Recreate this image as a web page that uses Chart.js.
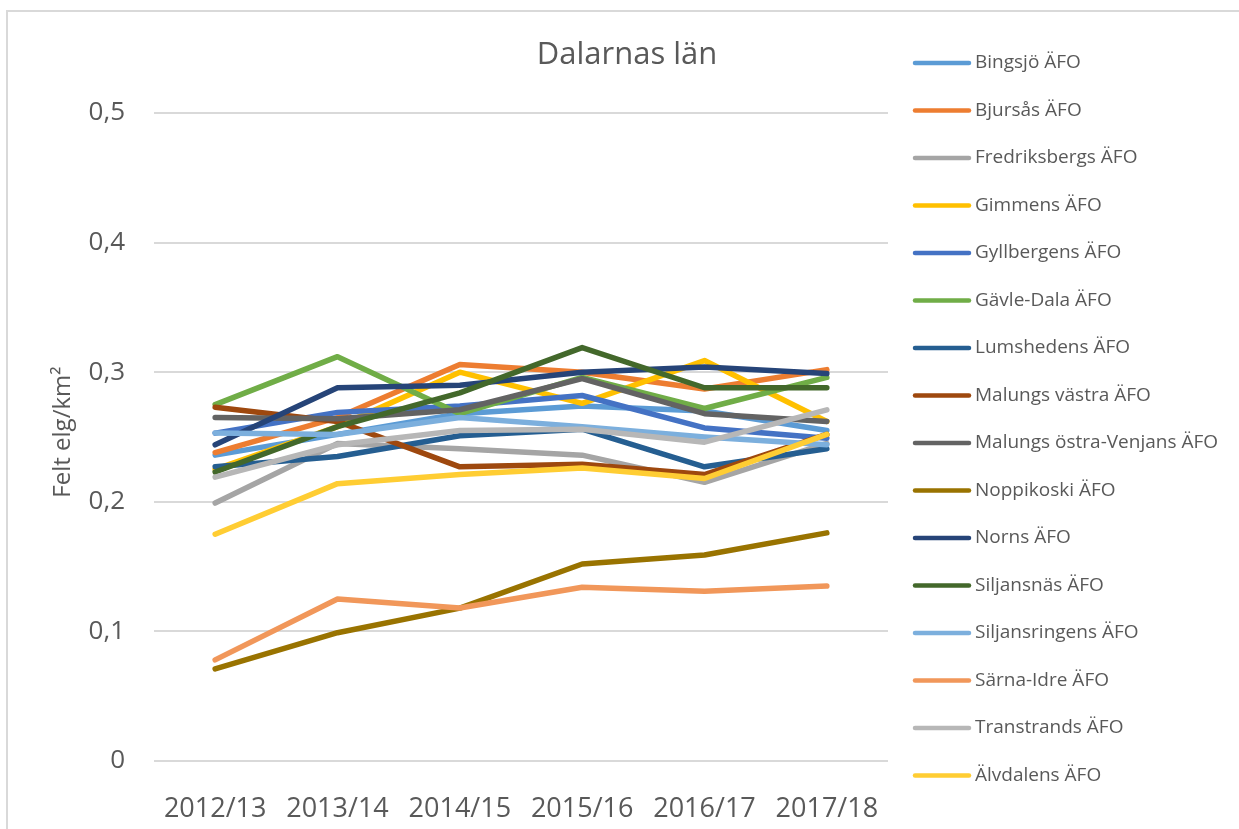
<!DOCTYPE html>
<html>
<head>
<meta charset="utf-8">
<script src="https://cdn.jsdelivr.net/npm/chart.js@4/dist/chart.umd.min.js"></script>
<style>
body { margin: 0; background: #ffffff; }
#chart_container { position: relative; width: 1239px; height: 829px; }
</style>
</head>
<body>
<div id="chart_container">
<canvas id="chart_canvas" width="1239" height="829"></canvas>
</div>
<script>
var categories = ["2012/13", "2013/14", "2014/15", "2015/16", "2016/17", "2017/18"];

var seriesNames = [
    "Bingsjö ÄFO", "Bjursås ÄFO", "Fredriksbergs ÄFO", "Gimmens ÄFO",
    "Gyllbergens ÄFO", "Gävle-Dala ÄFO", "Lumshedens ÄFO", "Malungs västra ÄFO",
    "Malungs östra-Venjans ÄFO", "Noppikoski ÄFO", "Norns ÄFO", "Siljansnäs ÄFO",
    "Siljansringens ÄFO", "Särna-Idre ÄFO", "Transtrands ÄFO", "Älvdalens ÄFO"
];

var bingsjo = [0.236, 0.252, 0.268, 0.274, 0.270, 0.255];
var bjursas = [0.238, 0.265, 0.306, 0.300, 0.287, 0.302];
var fredriksbergs = [0.199, 0.245, 0.241, 0.236, 0.215, 0.245];
var gimmens = [0.225, 0.258, 0.300, 0.276, 0.309, 0.262];
var gyllbergens = [0.253, 0.269, 0.274, 0.282, 0.257, 0.249];
var gavleDala = [0.275, 0.312, 0.268, 0.296, 0.272, 0.296];
var lumshedens = [0.227, 0.235, 0.251, 0.256, 0.227, 0.241];
var malungsVastra = [0.273, 0.262, 0.227, 0.229, 0.221, 0.252];
var malungsOstra = [0.265, 0.264, 0.271, 0.295, 0.268, 0.262];
var noppikoski = [0.071, 0.099, 0.118, 0.152, 0.159, 0.176];
var norns = [0.244, 0.288, 0.290, 0.300, 0.304, 0.299];
var siljansnas = [0.223, 0.258, 0.284, 0.319, 0.288, 0.288];
var siljansringens = [0.253, 0.252, 0.265, 0.258, 0.250, 0.244];
var sarnaIdre = [0.078, 0.125, 0.118, 0.134, 0.131, 0.135];
var transtrands = [0.219, 0.244, 0.255, 0.256, 0.246, 0.271];
var alvdalens = [0.175, 0.214, 0.221, 0.226, 0.218, 0.252];

var seriesValues = [
    bingsjo, bjursas, fredriksbergs, gimmens, gyllbergens, gavleDala, lumshedens,
    malungsVastra, malungsOstra, noppikoski, norns, siljansnas, siljansringens,
    sarnaIdre, transtrands, alvdalens
];

var seriesColors = [
    "#5B9BD5", "#ED7D31", "#A5A5A5", "#FFC000", "#4472C4", "#70AD47", "#255E91", "#9E480E",
    "#636363", "#997300", "#264478", "#43682B", "#7CAFDD", "#F1975A", "#B7B7B7", "#FFCD33"
];

var yTicks = [0, 0.1, 0.2, 0.3, 0.4, 0.5];

var textColor = "#595959";
var fontName = "'Open Sans', sans-serif";

var datasets = [];
for (var i = 0; i < seriesNames.length; i++) {
    datasets.push({
        label: seriesNames[i],
        data: seriesValues[i],
        borderColor: seriesColors[i],
        backgroundColor: seriesColors[i],
        borderWidth: 5.5,
        borderCapStyle: "round",
        borderJoinStyle: "round",
        pointRadius: 0,
        tension: 0,
        fill: false,
        // excel draws the last series on top
        order: seriesNames.length - i
    });
}

// frame, title, axis title and legend, drawn on the canvas itself
var decorations = {
    id: "decorations",
    beforeDraw: function (chart) {
        var ctx = chart.ctx;
        ctx.save();
        ctx.fillStyle = "#ffffff";
        ctx.fillRect(0, 0, chart.width, chart.height);
        ctx.strokeStyle = "#D9D9D9";
        ctx.lineWidth = 2;
        ctx.beginPath();
        ctx.moveTo(7, chart.height + 2);
        ctx.lineTo(7, 11);
        ctx.lineTo(chart.width + 2, 11);
        ctx.stroke();
        ctx.restore();
    },
    afterDraw: function (chart) {
        var ctx = chart.ctx;
        ctx.save();
        ctx.fillStyle = textColor;

        ctx.font = "31px " + fontName;
        ctx.textAlign = "center";
        ctx.textBaseline = "alphabetic";
        ctx.fillText("Dalarnas län", 627, 64);

        ctx.save();
        ctx.translate(70, 432);
        ctx.rotate(-Math.PI / 2);
        ctx.font = "24px " + fontName;
        ctx.fillText("Felt elg/km²", 0, 0);
        ctx.restore();

        ctx.font = "19px " + fontName;
        ctx.textAlign = "left";
        ctx.textBaseline = "middle";
        for (var i = 0; i < chart.data.datasets.length; i++) {
            var ds = chart.data.datasets[i];
            var y = 63 + i * 47.5;
            ctx.strokeStyle = ds.borderColor;
            ctx.lineWidth = 4.5;
            ctx.lineCap = "round";
            ctx.beginPath();
            ctx.moveTo(915, y);
            ctx.lineTo(969, y);
            ctx.stroke();
            ctx.fillText(ds.label, 975, y);
        }
        ctx.restore();
    }
};

var canvas = document.getElementById("chart_canvas");

var chart = new Chart(canvas, {
    type: "line",
    data: {
        labels: categories,
        datasets: datasets
    },
    options: {
        responsive: false,
        animation: false,
        layout: {
            padding: { left: 0, right: 351, top: 113, bottom: 0 }
        },
        scales: {
            x: {
                offset: true,
                grid: { display: false },
                border: { display: false },
                ticks: {
                    color: textColor,
                    font: { family: fontName, size: 27 },
                    padding: 24,
                    maxRotation: 0
                },
                afterFit: function (scale) {
                    scale.height = 68;
                }
            },
            y: {
                min: 0,
                max: 0.5,
                afterBuildTicks: function (scale) {
                    scale.ticks = yTicks.map(function (v) { return { value: v }; });
                },
                grid: {
                    color: "#D9D9D9",
                    lineWidth: 2,
                    drawTicks: false
                },
                border: { display: false },
                ticks: {
                    color: textColor,
                    font: { family: fontName, size: 26 },
                    padding: 29,
                    callback: function (value) {
                        return String(value).replace(".", ",");
                    }
                },
                afterFit: function (scale) {
                    scale.width = 154;
                }
            }
        },
        plugins: {
            legend: { display: false },
            title: { display: false },
            tooltip: { enabled: false }
        }
    },
    plugins: [decorations]
});
</script>
</body>
</html>
